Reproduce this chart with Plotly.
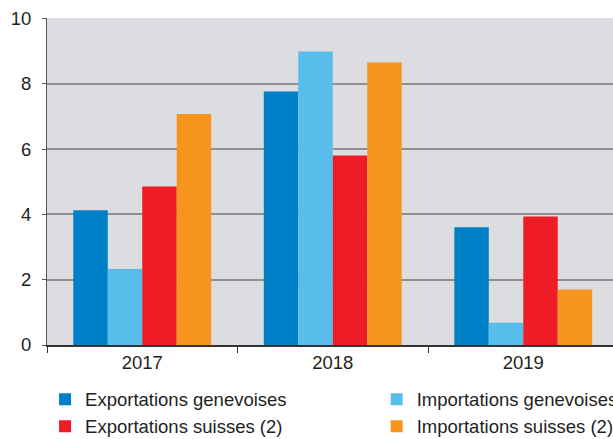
import plotly.graph_objects as go

years = ["2017", "2018", "2019"]
exp_geneve = [4.13, 7.77, 3.61]
imp_geneve = [2.33, 8.99, 0.68]
exp_suisse = [4.86, 5.81, 3.94]
imp_suisse = [7.08, 8.66, 1.70]

names = ["Exportations genevoises", "Importations genevoises",
         "Exportations suisses (2)", "Importations suisses (2)"]
colors = ["#0080c6", "#59bdeb", "#ee1c25", "#f7941d"]
legends = ["legend", "legend2", "legend", "legend2"]
series = [exp_geneve, imp_geneve, exp_suisse, imp_suisse]

FONT = "Liberation Sans, Arial, sans-serif"
TXT = "#231f20"
FS = 18.5

fig = go.Figure()
for name, col, lg, vals in zip(names, colors, legends, series):
    fig.add_trace(go.Bar(x=years, y=vals, name=name, marker_color=col,
                         marker_line_width=0, legend=lg))

fig.update_layout(
    width=613, height=439,
    margin=dict(l=47, r=0, t=18, b=94, autoexpand=False),
    paper_bgcolor="white", plot_bgcolor="#dcdde0",
    barmode="group", bargap=0.276, bargroupgap=0,
    font=dict(family=FONT, size=FS, color=TXT),
    legend=dict(xref="container", yref="container", x=0.0735, y=0.133,
                xanchor="left", yanchor="top", orientation="v",
                bgcolor="rgba(0,0,0,0)", font=dict(size=FS, color=TXT)),
    legend2=dict(xref="container", yref="container", x=0.6145, y=0.133,
                 xanchor="left", yanchor="top", orientation="v",
                 bgcolor="rgba(0,0,0,0)", font=dict(size=FS, color=TXT)),
)
fig.update_xaxes(type="category", range=[-0.5, 2.471], showgrid=False,
                 showline=True, linecolor="#333333", linewidth=1.5,
                 ticks="outside", tickson="boundaries", ticklen=6,
                 tickcolor="#333333", tickwidth=1,
                 tickfont=dict(size=FS, color=TXT))
fig.update_yaxes(range=[0, 10.02], tickvals=[0, 2, 4, 6, 8, 10],
                 showgrid=True, gridcolor="#8f8f8f", gridwidth=1.5,
                 zeroline=False, showline=True, linecolor="#555555",
                 linewidth=1, ticks="outside", ticklen=4, tickcolor="#555555",
                 ticklabelstandoff=7, tickfont=dict(size=FS, color=TXT))

fig.write_html("out.html", config={"displayModeBar": False},
               post_script="document.body.style.margin='0';document.body.style.overflow='hidden';")
